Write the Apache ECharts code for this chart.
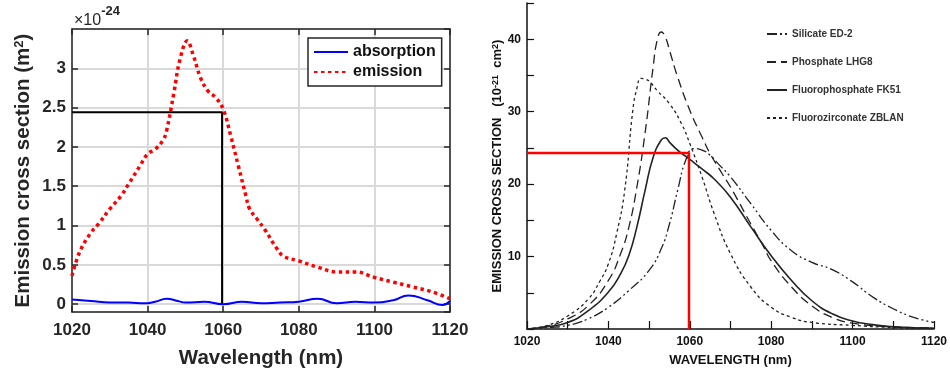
<!DOCTYPE html>
<html>
<head>
<meta charset="utf-8">
<script src="https://cdn.jsdelivr.net/npm/echarts@6/dist/echarts.min.js"></script>
<style>
  html, body { margin: 0; padding: 0; background: #fff; }
  #chart { width: 950px; height: 374px; }
</style>
</head>
<body>
<div id="chart"></div>
<script>
// ---- Left panel: measured cross sections (units of 1e-24 m^2) ----
const absNm  = [1020,1025,1030,1035,1039,1042,1045,1048,1050,1055,1060,1065,1070,1075,1080,1085,1090,1095,1100,1105,1109,1114,1118,1120];
const absVal = [0.06,0.04,0.02,0.02,0.01,0.03,0.07,0.04,0.02,0.03,0.00,0.03,0.01,0.02,0.03,0.07,0.01,0.03,0.02,0.05,0.11,0.05,-0.01,0.04];

const emNm  = [1020,1022,1025,1027,1030,1033,1035,1038,1040,1042,1044,1045,1047,1048.5,1050.5,1052,1054,1056,1058,1060,1062,1064,1066,1067,1069,1071,1074,1076,1080,1085,1090,1095,1100,1105,1110,1115,1120];
const emVal = [0.36,0.66,0.91,1.02,1.21,1.38,1.53,1.76,1.91,1.97,2.08,2.2,2.7,3.1,3.35,3.18,2.88,2.71,2.63,2.48,2.14,1.76,1.38,1.21,1.08,0.95,0.72,0.61,0.55,0.47,0.41,0.41,0.34,0.28,0.22,0.16,0.07];

// reading at 1060 nm
const leftMarkNm = 1059.7;
const leftMarkVal = 2.44;

// ---- Right panel: published spectra (units of 1e-21 cm^2) ----
const silNm  = [1020,1025,1030,1035,1040,1045,1050,1053,1055,1057,1059,1061,1063,1065,1067,1070,1075,1080,1085,1090,1095,1100,1105,1110,1115,1120];
const silVal = [0,0.2,0.5,1.4,3.0,5.3,8.1,11.1,14.5,19.1,23.3,24.9,24.7,24.0,22.8,21.0,17.3,13.6,10.8,9.2,8.2,6.5,4.4,2.8,1.6,0.9];

const phoNm  = [1020,1025,1030,1035,1040,1043,1045,1047,1049,1051,1052,1053,1054,1055,1057,1060,1063,1065,1068,1070,1075,1078,1080,1085,1090,1095,1100,1110,1120];
const phoVal = [0,0.4,1.4,3.2,6.7,10.4,14,19.6,27,36.2,39.9,41,40.3,38.5,34.8,30.2,26.5,24.2,21.4,19.6,14.5,11.5,9.4,5.8,3.2,1.6,0.8,0.3,0.15];

const fkNm  = [1020,1025,1030,1035,1040,1043,1045,1047,1049,1051,1053,1054,1055,1057,1060,1063,1066,1070,1075,1080,1085,1090,1095,1100,1105,1110,1120];
const fkVal = [0,0.3,0.9,2.5,5.1,7.6,10.1,14.1,19.1,23.7,26.1,26.4,25.8,24.7,23.4,22.1,20.7,18.2,14.1,10.1,6.7,3.9,2.1,1.1,0.6,0.3,0.1];

const zbNm  = [1020,1025,1030,1035,1038,1040,1042,1044,1046,1047,1048,1049,1050,1052,1055,1058,1060,1063,1066,1070,1075,1080,1085,1090,1100,1110,1120];
const zbVal = [0,0.5,1.8,4.1,6.7,9,13.1,19.1,30.2,33.2,34.6,34.5,34.2,32.9,31.1,28.3,25.6,21.0,15.9,10.4,5.8,3.0,1.6,0.9,0.5,0.2,0.1];

const rightMarkNm = 1059.8;
const rightMarkVal = 24.3;

const leftLegend = ['absorption', 'emission'];
const rightLegend = ['Silicate ED-2', 'Phosphate LHG8', 'Fluorophosphate FK51', 'Fluorozirconate ZBLAN'];

const zip = (xs, ys) => xs.map((x, i) => [x, ys[i]]);

const FONT = 'Liberation Sans, Arial, Helvetica, sans-serif';
const ML = '#262626';   // dark axis colour of the left panel
const MR = '#111111';

const chart = echarts.init(document.getElementById('chart'), null, { renderer: 'canvas' });

const leftTickAxis = {
  axisLine: { show: true, onZero: false, lineStyle: { color: ML, width: 1.5 } },
  axisTick: { show: true, inside: true, length: 6, lineStyle: { color: ML, width: 1.5 } },
  axisLabel: { show: false },
  splitLine: { show: false }
};

const option = {
  animation: false,
  backgroundColor: '#ffffff',
  textStyle: { fontFamily: FONT },
  grid: [
    { left: 72, right: 500, top: 29, bottom: 61 },
    { left: 527, right: 15, top: 3, bottom: 45 }
  ],
  legend: [
    {
      data: leftLegend,
      orient: 'vertical',
      left: 308, top: 38,
      padding: [6, 6, 6, 5],
      itemWidth: 34, itemHeight: 14, itemGap: 4,
      backgroundColor: '#fff',
      borderColor: ML, borderWidth: 1.5,
      itemStyle: { opacity: 0 },
      textStyle: { fontFamily: FONT, fontSize: 16, fontWeight: 'bold', color: '#111' },
      selectedMode: false
    },
    {
      data: rightLegend,
      orient: 'vertical',
      left: 761, top: 23,
      itemWidth: 20, itemHeight: 12, itemGap: 16,
      itemStyle: { opacity: 0 },
      textStyle: { fontFamily: FONT, fontSize: 10, fontWeight: 'bold', color: '#333', lineHeight: 12 },
      selectedMode: false
    }
  ],
  graphic: [
    {
      type: 'text', left: 74, top: 5,
      style: {
        text: '{x|×10}{e|-24}',
        rich: {
          x: { fontFamily: FONT, fontSize: 16, fill: ML, fontWeight: 'normal', padding: [8, 0, 0, 0] },
          e: { fontFamily: FONT, fontSize: 13, fill: ML, fontWeight: 'bold', verticalAlign: 'top' }
        }
      }
    }
  ],
  xAxis: [
    {
      gridIndex: 0, type: 'value', min: 1020, max: 1120, interval: 20,
      name: 'Wavelength (nm)', nameLocation: 'middle', nameGap: 36,
      nameTextStyle: { fontFamily: FONT, fontSize: 20.5, fontWeight: 'bold', color: ML },
      axisLine: { show: true, onZero: false, lineStyle: { color: ML, width: 1.5 } },
      axisTick: { show: true, inside: true, length: 6, lineStyle: { color: ML, width: 1.5 } },
      axisLabel: { margin: 10, fontFamily: FONT, fontSize: 17, fontWeight: 'bold', color: ML, formatter: v => String(v) },
      splitLine: { show: true, lineStyle: { color: '#d9d9d9', width: 2 } }
    },
    Object.assign({ gridIndex: 0, type: 'value', min: 1020, max: 1120, interval: 20, position: 'top' }, leftTickAxis),
    {
      gridIndex: 1, type: 'value', min: 1020, max: 1120, interval: 10,
      name: 'WAVELENGTH (nm)', nameLocation: 'middle', nameGap: 25,
      nameTextStyle: { fontFamily: FONT, fontSize: 13, fontWeight: 'bold', color: MR },
      axisLine: { show: true, onZero: false, lineStyle: { color: MR, width: 1.5 } },
      axisTick: { show: true, inside: true, length: 8, lineStyle: { color: MR, width: 1.2 } },
      axisLabel: {
        margin: 7, fontFamily: FONT, fontSize: 12, fontWeight: 'bold', color: MR,
        formatter: v => (v % 20 === 0) ? String(v) : ''
      },
      splitLine: { show: false }
    }
  ],
  yAxis: [
    {
      gridIndex: 0, type: 'value', min: -0.1, max: 3.5, splitNumber: 7,
      name: '{a|Emission cross section (m}{s|2}{a|)}', nameLocation: 'middle', nameGap: 38,
      nameTextStyle: {
        rich: {
          a: { fontFamily: FONT, fontSize: 20.5, fontWeight: 'bold', color: ML },
          s: { fontFamily: FONT, fontSize: 13, fontWeight: 'bold', color: ML, verticalAlign: 'top' }
        }
      },
      axisLine: { show: true, onZero: false, lineStyle: { color: ML, width: 1.5 } },
      axisTick: { show: true, inside: true, length: 6, lineStyle: { color: ML, width: 1.5 } },
      axisLabel: {
        margin: 6, fontFamily: FONT, fontSize: 17, fontWeight: 'bold', color: ML,
        showMinLabel: false, showMaxLabel: false,
        formatter: v => (v < -0.01 || v > 3.01) ? '' : String(Math.round(v * 10) / 10)
      },
      splitLine: { show: true, lineStyle: { color: '#d9d9d9', width: 2 } }
    },
    Object.assign({ gridIndex: 0, type: 'value', min: -0.1, max: 3.5, splitNumber: 7, position: 'right' }, leftTickAxis),
    {
      gridIndex: 1, type: 'value', min: 0, max: 45, interval: 5,
      name: '{a|EMISSION CROSS SECTION   (10}{s|-21}{a|  cm}{s|2}{a|)}', nameLocation: 'middle', nameGap: 20,
      nameTextStyle: {
        rich: {
          a: { fontFamily: FONT, fontSize: 13, fontWeight: 'bold', color: MR },
          s: { fontFamily: FONT, fontSize: 9, fontWeight: 'bold', color: MR, verticalAlign: 'top' }
        }
      },
      axisLine: { show: true, onZero: false, lineStyle: { color: MR, width: 1.5 } },
      axisTick: { show: true, inside: true, length: 7, lineStyle: { color: MR, width: 1.2 } },
      axisLabel: {
        margin: 6, fontFamily: FONT, fontSize: 12, fontWeight: 'bold', color: MR,
        formatter: v => (v > 0 && v % 10 === 0) ? String(v) : ''
      },
      splitLine: { show: false }
    }
  ],
  series: [
    // left panel
    {
      name: 'absorption', type: 'line', xAxisIndex: 0, yAxisIndex: 0,
      data: zip(absNm, absVal), smooth: 0.5, symbol: 'none',
      lineStyle: { color: '#0000ff', width: 2 }, itemStyle: { color: '#0000ff' }
    },
    {
      name: 'emission', type: 'line', xAxisIndex: 0, yAxisIndex: 0,
      data: zip(emNm, emVal), smooth: 0.4, symbol: 'none',
      lineStyle: { color: '#ff0000', width: 3.5, type: [3.5, 3.5], cap: 'butt' }, itemStyle: { color: '#ff0000' }
    },
    {
      type: 'line', xAxisIndex: 0, yAxisIndex: 0, symbol: 'none', silent: true,
      data: [[1020, leftMarkVal], [leftMarkNm, leftMarkVal], [leftMarkNm, 0]],
      lineStyle: { color: '#000', width: 2 }, z: 1
    },
    // right panel
    {
      name: 'Silicate ED-2', type: 'line', xAxisIndex: 2, yAxisIndex: 2,
      data: zip(silNm, silVal), smooth: 0.5, symbol: 'none',
      lineStyle: { color: '#222', width: 1.3, type: [10, 3, 2, 3, 2, 3] }, itemStyle: { color: '#222' }
    },
    {
      name: 'Phosphate LHG8', type: 'line', xAxisIndex: 2, yAxisIndex: 2,
      data: zip(phoNm, phoVal), smooth: 0.5, symbol: 'none',
      lineStyle: { color: '#222', width: 1.3, type: [9, 5] }, itemStyle: { color: '#222' }
    },
    {
      name: 'Fluorophosphate FK51', type: 'line', xAxisIndex: 2, yAxisIndex: 2,
      data: zip(fkNm, fkVal), smooth: 0.5, symbol: 'none',
      lineStyle: { color: '#222', width: 1.6 }, itemStyle: { color: '#222' }
    },
    {
      name: 'Fluorozirconate ZBLAN', type: 'line', xAxisIndex: 2, yAxisIndex: 2,
      data: zip(zbNm, zbVal), smooth: 0.5, symbol: 'none',
      lineStyle: { color: '#222', width: 1.3, type: [3, 3] }, itemStyle: { color: '#222' }
    },
    {
      type: 'line', xAxisIndex: 2, yAxisIndex: 2, symbol: 'none', silent: true,
      data: [[1020, rightMarkVal], [rightMarkNm, rightMarkVal], [rightMarkNm, 0]],
      lineStyle: { color: '#ff0000', width: 2.5 }, z: 5
    }
  ]
};

chart.setOption(option);
</script>
</body>
</html>
